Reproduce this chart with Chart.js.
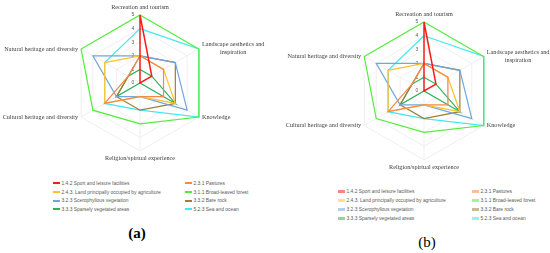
<!DOCTYPE html>
<html>
<head>
<meta charset="utf-8">
<script src="https://cdn.jsdelivr.net/npm/chart.js@4"></script>
<style>
  body { margin: 0; background: #fff; width: 550px; height: 253px; position: relative; overflow: hidden; }
  canvas { position: absolute; }
  .legend { position: absolute; display: grid; font-family: "Liberation Sans", Arial, sans-serif; font-size: 4.9px; color: #595959; }
  .legend div { display: flex; align-items: center; white-space: nowrap; }
  .legend span.mk { display: inline-block; width: 7px; margin-right: 1.5px; }
  .tag { position: absolute; font-family: "Liberation Serif", serif; font-size: 15px; color: #000; transform: translate(-50%, -50%); }
</style>
</head>
<body>
<canvas id="chartA" width="280" height="176" style="left:0px;top:-5px"></canvas>
<canvas id="chartB" width="280" height="178" style="left:284px;top:2px"></canvas>
<div id="legendA" class="legend" style="left:53px;top:179px;grid-template-columns:132px 80px;grid-auto-rows:8.7px"></div>
<div id="legendB" class="legend" style="left:338px;top:186.5px;grid-template-columns:134px 80px;grid-auto-rows:9px"></div>
<div class="tag" style="left:137px;top:233px;font-weight:bold">(a)</div>
<div class="tag" style="left:427px;top:242px">(b)</div>
<script>
// ecosystem services (radar axes, clockwise from the top)
const services = [
  'Recreation and tourism',
  ['Landscape aesthetics and', 'inspiration'],
  'Knowledge',
  'Religion/spirtual experience',
  'Cultural heritage and diversity',
  'Natural heritage and diversity'
];

// land cover classes and their scores (0-5)
const coverNames = [
  '1.4.2 Sport and leisure facilities',
  '2.3.1 Pastures',
  '2.4.3. Land principally occupied by agriculture',
  '3.1.1 Broad-leaved forest',
  '3.2.3 Scerophyllous vegetation',
  '3.3.2 Bare rock',
  '3.3.3 Sparsely vegetated areas',
  '5.2.3 Sea and ocean'
];
const sportLeisure   = [5, 1, 0, 0, 0, 0];
const pastures       = [2, 2, 2, 1, 3, 1];
const agriculture    = [2, 2, 3, 1, 3, 3];
const broadLeaved    = [5, 5, 5, 3, 4, 5];
const sclerophyllous = [2, 3, 4, 1, 2, 4];
const bareRock       = [2, 3, 3, 2, 2, 1];
const sparseVeg      = [1, 1, 3, 0, 2, 1];
const seaOcean       = [4, 5, 5, 2, 3, 3];
const scoreTicks     = [0, 1, 2, 3, 4, 5];

const coverColors = ['#ff1a1a', '#f4894a', '#ffc22e', '#52ee3a', '#72a6dc', '#9d8136', '#2fb25c', '#42e8f2'];
const allScores = [sportLeisure, pastures, agriculture, broadLeaved, sclerophyllous, bareRock, sparseVeg, seaOcean];

// 0..5 labels just left of the top axis
const tickLabels = {
  id: 'tickLabels',
  beforeDatasetsDraw(chart) {
    const s = chart.scales.r;
    const ctx = chart.ctx;
    ctx.save();
    ctx.font = '5px "Liberation Sans", sans-serif';
    ctx.fillStyle = '#595959';
    ctx.textAlign = 'center';
    ctx.textBaseline = 'middle';
    scoreTicks.forEach(v => {
      const d = s.getDistanceFromCenterForValue(v);
      ctx.fillText(String(v), s.xCenter - 7, s.yCenter - d);
    });
    ctx.restore();
  }
};

// axis names, vertically centred on the side spokes like the original
const serviceLabels = {
  id: 'serviceLabels',
  afterDraw(chart) {
    const s = chart.scales.r;
    const ctx = chart.ctx;
    const R = s.drawingArea;
    ctx.save();
    ctx.font = '6.2px "Liberation Serif", serif';
    ctx.fillStyle = '#404040';
    ctx.textBaseline = 'middle';
    services.forEach((label, i) => {
      const lines = Array.isArray(label) ? label : [label];
      const v = s.getPointPosition(i, R);
      if (Math.abs(v.x - s.xCenter) < 1) {
        const p = s.getPointPosition(i, R + (v.y < s.yCenter ? 8 : 7.5));
        ctx.textAlign = 'center';
        ctx.fillText(lines[0], p.x, p.y);
        return;
      }
      const p = s.getPointPosition(i, R + 3.5);
      if (p.x > s.xCenter) {
        if (lines.length > 1) {
          const w = Math.max(...lines.map(t => ctx.measureText(t).width));
          ctx.textAlign = 'center';
          lines.forEach((t, k) => ctx.fillText(t, p.x + w / 2, v.y - 4.5 + k * 8));
        } else {
          ctx.textAlign = 'left';
          ctx.fillText(lines[0], p.x, v.y);
        }
      } else {
        ctx.textAlign = 'right';
        ctx.fillText(lines[0], p.x, v.y);
      }
    });
    ctx.restore();
  }
};

function makeRadar(id) {
  new Chart(document.getElementById(id), {
    type: 'radar',
    data: {
      labels: services,
      datasets: coverNames.map((name, i) => ({
        label: name,
        data: allScores[i],
        borderColor: coverColors[i],
        borderWidth: i === 0 ? 1.5 : 1.2,
        fill: false,
        pointRadius: 0,
        tension: 0
      }))
    },
    options: {
      responsive: false,
      animation: false,
      layout: { padding: { top: 20, bottom: 20 } },
      plugins: { legend: { display: false }, tooltip: { enabled: false } },
      scales: {
        r: {
          min: 0,
          max: 5,
          ticks: { display: false, stepSize: 1 },
          grid: { color: '#ebebeb', lineWidth: 0.8 },
          angleLines: { color: '#ebebeb', lineWidth: 0.8 },
          pointLabels: { display: false }
        }
      }
    },
    plugins: [tickLabels, serviceLabels]
  });
}

function makeLegend(id, thick) {
  const box = document.getElementById(id);
  coverNames.forEach((name, i) => {
    const item = document.createElement('div');
    const mk = document.createElement('span');
    mk.className = 'mk';
    mk.style.height = thick ? '3px' : '2px';
    mk.style.background = coverColors[i];
    if (thick) mk.style.opacity = '0.55';
    item.appendChild(mk);
    item.appendChild(document.createTextNode(name));
    box.appendChild(item);
  });
}

makeRadar('chartA');
makeRadar('chartB');
makeLegend('legendA', false);
makeLegend('legendB', true);
</script>
</body>
</html>
